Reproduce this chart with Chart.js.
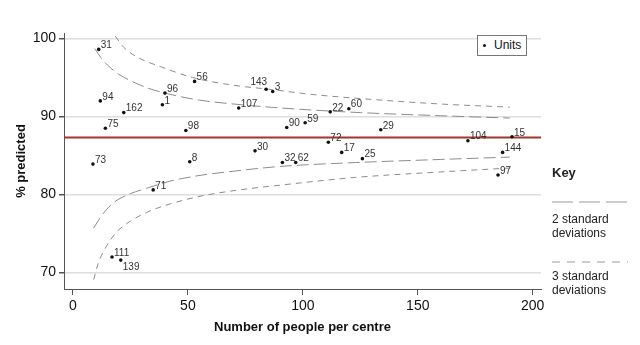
<!DOCTYPE html>
<html>
<head>
<meta charset="utf-8">
<title>Funnel plot</title>
<script src="https://cdn.jsdelivr.net/npm/chart.js@4/dist/chart.umd.min.js"></script>
<style>
  html, body { margin: 0; padding: 0; background: #fff; }
  body { font-family: "Liberation Sans", Arial, Helvetica, sans-serif; color: #222; }
  #wrap { position: relative; width: 640px; height: 345px; overflow: hidden; }
  #funnel { position: absolute; left: 0; top: 0; }
  /* caja de leyenda "Units" dentro del área del gráfico */
  #unitsBox {
    position: absolute; left: 477px; top: 35px; width: 48px; height: 19px;
    border: 1px solid #777; background: #fff; font-size: 12px; line-height: 19px;
  }
  #unitsBox .dot { position: absolute; left: 5px; top: 8px; width: 3px; height: 3px; border-radius: 50%; background: #111; }
  #unitsBox .txt { position: absolute; left: 16px; top: 0; color: #111; }
  /* panel "Key" a la derecha */
  .key { position: absolute; left: 552px; font-size: 12px; line-height: 13.5px; color: #222; }
  .key.title { font-weight: bold; font-size: 13px; }
  .key-line { position: absolute; left: 552px; }
</style>
</head>
<body>
<div id="wrap">
  <canvas id="funnel" width="640" height="345"></canvas>
  <div id="unitsBox"><span class="dot"></span><span class="txt">Units</span></div>
  <div class="key title" style="top:166px">Key</div>
  <svg class="key-line" style="top:197px" width="78" height="10"><line x1="0" y1="5" x2="76" y2="5" stroke="#9a9a9a" stroke-width="1" stroke-dasharray="21 6"/></svg>
  <div class="key" style="top:213px">2 standard<br>deviations</div>
  <svg class="key-line" style="top:257px" width="78" height="10"><line x1="0" y1="5" x2="76" y2="5" stroke="#9a9a9a" stroke-width="1" stroke-dasharray="8 7"/></svg>
  <div class="key" style="top:270px">3 standard<br>deviations</div>
</div>
<script>
// ---------------------------------------------------------------
// Datos: unidades, tamaño del centro y % predicho
// ---------------------------------------------------------------
const UNITS = ['31', '94', '162', '75', '96', '1', '56', '98', '143', '3', '107', '22', '60', '90', '59',
    '72', '30', '32', '62', '17', '29', '104', '15', '144', '25', '97', '73', '8', '71', '111', '139'];
const CENTRE_SIZE = [11.2, 11.9, 22.1, 14.1, 40.0, 38.9, 52.9, 49.1, 84.0, 86.9, 72.1, 111.9, 120.0, 93.0, 101.0,
    111.1, 79.2, 91.1, 96.9, 116.9, 133.9, 171.8, 191.0, 186.9, 125.9, 184.9, 8.7, 50.8, 34.9, 17.0, 20.8];
const PCT_PREDICTED = [98.6, 92.0, 90.5, 88.5, 93.0, 91.5, 94.5, 88.2, 93.5, 93.2, 91.1, 90.6, 91.0, 88.6, 89.2,
    86.7, 85.6, 84.1, 84.1, 85.4, 88.3, 86.9, 87.4, 85.4, 84.6, 82.5, 83.9, 84.2, 80.6, 72.0, 71.6];

// media global (línea roja)
const MEAN_PCT = 87.3;

// límites de control: 2 desviaciones estándar
const UPPER2_N = [9.5, 12, 15, 20, 25, 32, 40, 55, 70, 90, 125, 160, 190];
const UPPER2_PCT = [98.7, 97.6, 96.6, 95.4, 94.6, 93.7, 93.0, 92.1, 91.6, 91.1, 90.5, 90.1, 89.8];
const LOWER2_N = [9, 12, 17, 24, 32, 42, 54, 70, 90, 123, 160, 190];
const LOWER2_PCT = [75.7, 77.1, 78.8, 80.0, 80.8, 81.7, 82.4, 83.0, 83.6, 84.1, 84.5, 84.8];

// límites de control: 3 desviaciones estándar
const UPPER3_N = [18.4, 22, 28, 38, 52, 70, 85, 105, 125, 160, 190];
const UPPER3_PCT = [100.3, 98.9, 97.6, 96.4, 95.0, 94.0, 93.5, 92.8, 92.3, 91.6, 91.2];
const LOWER3_N = [9, 11, 14.6, 19, 25, 32, 39, 54, 70, 90, 123, 160, 190];
const LOWER3_PCT = [69.1, 71.2, 73.4, 75.2, 76.6, 77.7, 78.5, 79.7, 80.5, 81.2, 82.2, 82.9, 83.4];

// ticks de los ejes
const X_TICKS = [0, 50, 100, 150, 200];
const Y_TICKS = [70, 80, 90, 100];
const X_MIN = -3.9, X_MAX = 203.6;
const Y_MIN = 67.9, Y_MAX = 100.7;

// ---------------------------------------------------------------
const toPoints = (xs, ys) => xs.map((x, i) => ({ x, y: ys[i] }));
const GRAY = '#8c8c8c';
const AXIS = '#555';
const LONG_DASH = [12, 5];
const SHORT_DASH = [6, 5];

Chart.defaults.font.family = '"Liberation Sans", Arial, Helvetica, sans-serif';
Chart.defaults.color = '#111';

// etiquetas que no van a la derecha del punto
const LABEL_POS = { '143': 'left', '139': 'below' };

// Plugin: escribe el número de unidad junto a cada punto
const unitLabels = {
    id: 'unitLabels',
    afterDatasetsDraw(chart) {
        const meta = chart.getDatasetMeta(0);
        const ctx = chart.ctx;
        ctx.save();
        ctx.font = '10px "Liberation Sans", Arial, sans-serif';
        ctx.fillStyle = '#333';
        ctx.textBaseline = 'middle';
        meta.data.forEach((pt, i) => {
            const label = UNITS[i];
            const pos = LABEL_POS[label];
            if (pos === 'left') {
                ctx.textAlign = 'right';
                ctx.fillText(label, pt.x + 1, pt.y - 7);
            } else if (pos === 'below') {
                ctx.textAlign = 'left';
                ctx.fillText(label, pt.x + 2, pt.y + 7);
            } else {
                ctx.textAlign = 'left';
                ctx.fillText(label, pt.x + 2, pt.y - 4);
            }
        });
        ctx.restore();
    }
};

const limitStyle = (dash) => ({
    showLine: true, pointRadius: 0, borderColor: GRAY, borderWidth: 1,
    borderDash: dash, cubicInterpolationMode: 'monotone', fill: false
});

new Chart(document.getElementById('funnel'), {
    type: 'scatter',
    data: {
        datasets: [
            {
                label: 'Units',
                data: toPoints(CENTRE_SIZE, PCT_PREDICTED),
                pointRadius: 1.8, pointBackgroundColor: '#111', pointBorderWidth: 0, order: 0
            },
            {
                label: 'Mean',
                data: [{ x: X_MIN, y: MEAN_PCT }, { x: X_MAX, y: MEAN_PCT }],
                showLine: true, pointRadius: 0, borderColor: '#a0372f', borderWidth: 2, order: 1
            },
            Object.assign({ label: '2 SD upper', data: toPoints(UPPER2_N, UPPER2_PCT), order: 2 }, limitStyle(LONG_DASH)),
            Object.assign({ label: '2 SD lower', data: toPoints(LOWER2_N, LOWER2_PCT), order: 2 }, limitStyle(LONG_DASH)),
            Object.assign({ label: '3 SD upper', data: toPoints(UPPER3_N, UPPER3_PCT), order: 3 }, limitStyle(SHORT_DASH)),
            Object.assign({ label: '3 SD lower', data: toPoints(LOWER3_N, LOWER3_PCT), order: 3 }, limitStyle(SHORT_DASH))
        ]
    },
    options: {
        responsive: false,
        animation: false,
        devicePixelRatio: 1,
        layout: { padding: { top: 33, right: 99, left: 0, bottom: 0 } },
        plugins: { legend: { display: false }, tooltip: { enabled: false } },
        scales: {
            x: {
                type: 'linear', min: X_MIN, max: X_MAX,
                afterBuildTicks: (s) => { s.ticks = X_TICKS.map((v) => ({ value: v })); },
                afterFit: (s) => { s.height = 56; },
                grid: { drawOnChartArea: false, drawTicks: true, tickLength: 6, tickColor: AXIS },
                border: { display: true, color: AXIS, width: 1 },
                ticks: { font: { size: 14 }, color: '#111', padding: 3, maxRotation: 0 },
                title: { display: true, text: 'Number of people per centre', font: { size: 13, weight: 'bold' }, color: '#111', padding: { top: 4, bottom: 10 } }
            },
            y: {
                type: 'linear', min: Y_MIN, max: Y_MAX,
                afterBuildTicks: (s) => { s.ticks = Y_TICKS.map((v) => ({ value: v })); },
                afterFit: (s) => { s.width = 64; },
                grid: { color: '#dedede', lineWidth: 1.5, drawTicks: true, tickLength: 5, tickColor: AXIS },
                border: { display: true, color: AXIS, width: 1 },
                ticks: { font: { size: 14 }, color: '#111', padding: 3 },
                title: { display: true, text: '% predicted', font: { size: 13, weight: 'bold' }, color: '#111', padding: { top: 14, bottom: 4 } }
            }
        }
    },
    plugins: [unitLabels]
});
</script>
</body>
</html>
